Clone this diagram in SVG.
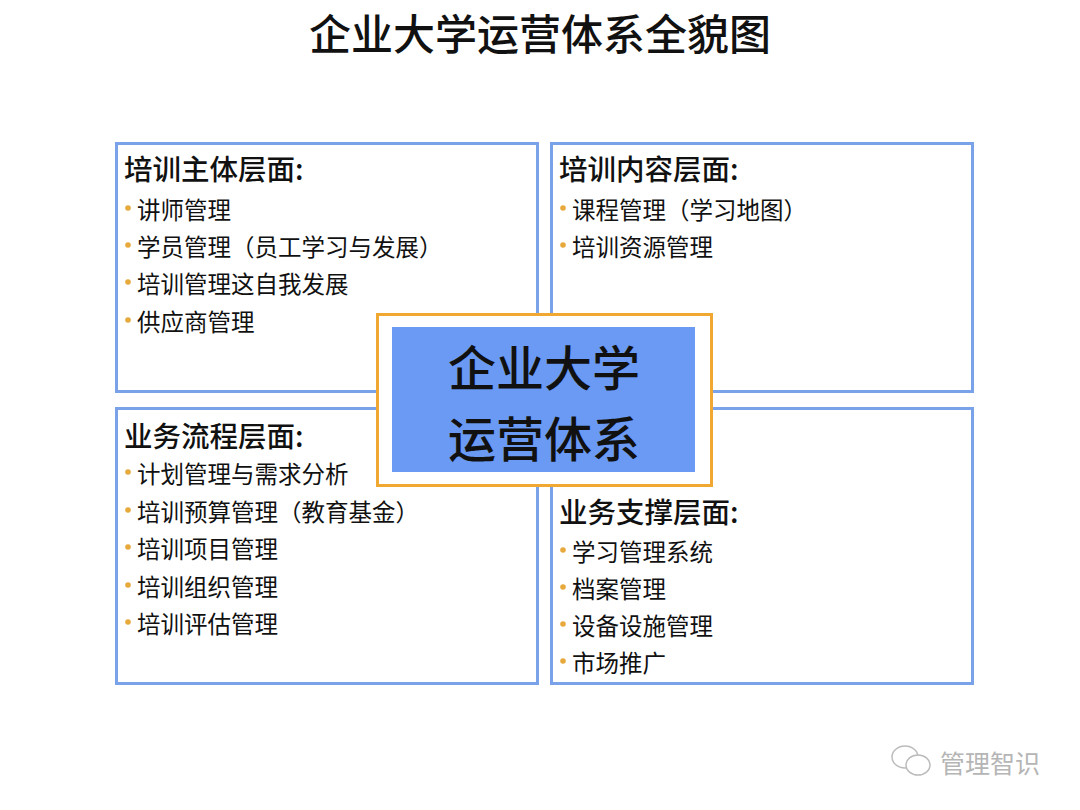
<svg xmlns="http://www.w3.org/2000/svg" width="1080" height="810" viewBox="0 0 1080 810">
<style>
text{font-family:"Noto Sans CJK SC","Noto Sans",sans-serif;fill:#111;dominant-baseline:central}
.panel{fill:#fff;stroke:#7aa2e8;stroke-width:3}
.h{font-size:28.5px;font-weight:500}
.i{font-size:23.5px}
.b{fill:#e8a93c}
.c{font-size:48px;text-anchor:middle;font-weight:500}
</style>
<rect width="1080" height="810" fill="#fff"/>
<text x="540" y="31" style="font-size:42px;text-anchor:middle;font-weight:500">企业大学运营体系全貌图</text>
<g id="connectors"></g>
<g id="node-zhuti">
<rect class="panel" x="116.5" y="143.5" width="421" height="248"/>
<text class="h" x="124" y="167">培训主体层面:</text>
<circle class="b" cx="128" cy="208" r="2.8"/><text class="i" x="137" y="209">讲师管理</text>
<circle class="b" cx="128" cy="245" r="2.8"/><text class="i" x="137" y="246">学员管理（员工学习与发展）</text>
<circle class="b" cx="128" cy="282" r="2.8"/><text class="i" x="137" y="283">培训管理这自我发展</text>
<circle class="b" cx="128" cy="320" r="2.8"/><text class="i" x="137" y="321">供应商管理</text>
</g>
<g id="node-neirong">
<rect class="panel" x="551.5" y="143.5" width="421" height="248"/>
<text class="h" x="559" y="167">培训内容层面:</text>
<circle class="b" cx="563" cy="208" r="2.8"/><text class="i" x="572" y="209">课程管理（学习地图）</text>
<circle class="b" cx="563" cy="245" r="2.8"/><text class="i" x="572" y="246">培训资源管理</text>
</g>
<g id="node-liucheng">
<rect class="panel" x="116.5" y="408.5" width="421" height="275"/>
<text class="h" x="124" y="434">业务流程层面:</text>
<circle class="b" cx="128" cy="472" r="2.8"/><text class="i" x="137" y="473">计划管理与需求分析</text>
<circle class="b" cx="128" cy="510" r="2.8"/><text class="i" x="137" y="511">培训预算管理（教育基金）</text>
<circle class="b" cx="128" cy="547" r="2.8"/><text class="i" x="137" y="548">培训项目管理</text>
<circle class="b" cx="128" cy="585" r="2.8"/><text class="i" x="137" y="586">培训组织管理</text>
<circle class="b" cx="128" cy="622" r="2.8"/><text class="i" x="137" y="623">培训评估管理</text>
</g>
<g id="node-zhicheng">
<rect class="panel" x="551.5" y="408.5" width="421" height="275"/>
<text class="h" x="559" y="510">业务支撑层面:</text>
<circle class="b" cx="563" cy="550" r="2.8"/><text class="i" x="572" y="551">学习管理系统</text>
<circle class="b" cx="563" cy="587" r="2.8"/><text class="i" x="572" y="588">档案管理</text>
<circle class="b" cx="563" cy="624" r="2.8"/><text class="i" x="572" y="625">设备设施管理</text>
<circle class="b" cx="563" cy="661" r="2.8"/><text class="i" x="572" y="662">市场推广</text>
</g>
<g id="node-center">
<rect x="377.5" y="314.5" width="334" height="171" fill="#fff" stroke="#f0a832" stroke-width="3"/>
<rect x="392" y="327" width="303" height="145" fill="#6a9af4"/>
<text class="c" x="544" y="365">企业大学</text>
<text class="c" x="544" y="436">运营体系</text>
</g>
<g id="watermark" fill="none" stroke="#bbb" stroke-width="1.5">
<ellipse cx="905" cy="757" rx="13" ry="11"/>
<ellipse cx="918" cy="765" rx="12" ry="10" fill="#fff"/>
<text x="940" y="762" style="font-size:25px;fill:#b5b5b5;stroke:none">管理智识</text>
</g>
</svg>
